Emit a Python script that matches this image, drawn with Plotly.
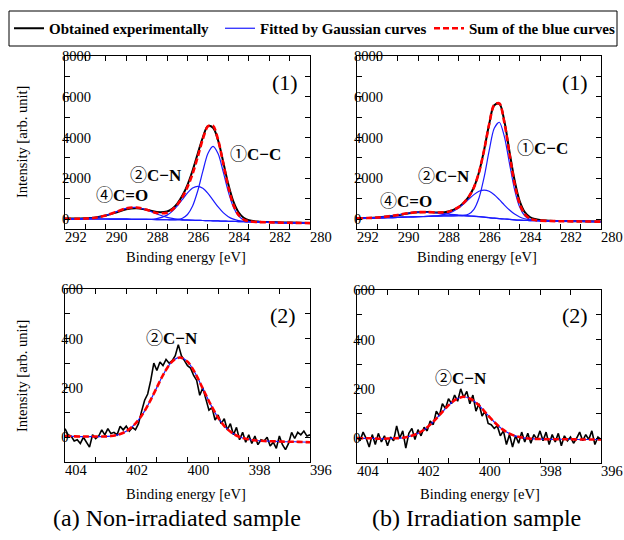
import plotly.graph_objects as go

W, H = 624, 540
FONT = "Liberation Serif, Times New Roman, serif"

# ---------------- C1s spectra (binding energy grid, eV) ----------------
c1s_energy = [292, 291.5, 291, 290.5, 290, 289.5, 289, 288.5, 288, 287.5, 287,
              286.75, 286.5, 286.25, 286, 285.75, 285.5, 285.25, 285, 284.75,
              284.5, 284.25, 284, 283.75, 283.5, 283.25, 283, 282.5, 282, 281, 280]
c1s_ticks = [292, 290, 288, 286, 284, 282, 280]

# (a) non-irradiated, C1s
a1_exp = [30, 25, 40, 80, 170, 320, 480, 530, 450, 340, 370, 500, 760, 1150, 1680,
          2380, 3200, 4000, 4560, 4480, 3850, 2800, 1700, 850, 330, 60, -60, -130,
          -150, -175, -190]
a1_base = [10, 8, 5, 2, 0, -5, -10, -15, -20, -28, -36, -41, -46, -50, -55, -61, -67,
           -74, -80, -88, -95, -103, -110, -118, -125, -133, -140, -152, -165, -185, -200]
a1_cc = [10, 8, 5, 2, 0, -5, -10, -15, -20, -28, -35, -36, -23, 39, 221, 638, 1373,
         2340, 3212, 3562, 3197, 2311, 1330, 581, 151, -44, -117, -151, -165, -185, -200]
a1_cn = [10, 8, 5, 2, 0, -5, -10, -14, -14, 20, 190, 376, 641, 963, 1282, 1519, 1603,
         1506, 1257, 925, 592, 314, 116, -8, -77, -114, -134, -151, -165, -185, -200]
a1_co = [10, 11, 22, 65, 174, 350, 520, 566, 448, 249, 84, 30, -8, -31, -46, -57, -65,
         -74, -80, -88, -95, -103, -110, -118, -125, -133, -140, -152, -165, -185, -200]
a1_sum = [10, 11, 22, 65, 174, 350, 520, 567, 454, 297, 311, 452, 702, 1071, 1567,
          2222, 3045, 3920, 4549, 4575, 3884, 2728, 1556, 691, 199, -25, -111, -151,
          -165, -185, -200]

# (b) irradiated, C1s
b1_exp = [40, 50, 70, 120, 190, 270, 330, 340, 320, 370, 590, 800, 1100, 1560, 2300,
          3380, 4650, 5580, 5650, 4780, 3300, 1900, 880, 340, 100, 0, -50, -85, -100,
          -115, -120]
b1_base = [30, 40, 50, 65, 80, 100, 115, 130, 145, 155, 160, 155, 145, 130, 110, 90, 65,
           40, 20, 0, -20, -40, -55, -65, -75, -82, -88, -98, -108, -120, -130]
b1_cc = [30, 40, 50, 65, 80, 100, 115, 130, 145, 155, 165, 180, 249, 477, 1030, 2039,
         3352, 4457, 4749, 4033, 2721, 1444, 585, 155, -15, -69, -86, -98, -108, -120, -130]
b1_cn = [30, 40, 50, 65, 80, 100, 115, 134, 172, 276, 542, 745, 976, 1197, 1359, 1422,
         1361, 1189, 949, 684, 439, 241, 102, 15, -38, -66, -82, -97, -108, -120, -130]
b1_co = [32, 47, 74, 126, 200, 284, 334, 333, 292, 238, 196, 177, 157, 137, 113, 90, 65,
         40, 20, 0, -20, -40, -55, -65, -75, -82, -88, -98, -108, -120, -130]
b1_sum = [32, 47, 74, 126, 200, 284, 334, 337, 319, 359, 584, 792, 1092, 1551, 2282,
          3371, 4648, 5606, 5678, 4717, 3180, 1725, 742, 235, 22, -53, -80, -97, -108,
          -120, -130]

# ---------------- N1s spectra ----------------
n1s_ticks = [404, 402, 400, 398, 396]
n1s_fit_energy = [404, 403.75, 403.5, 403.25, 403, 402.75, 402.5, 402.25, 402, 401.75,
                  401.5, 401.25, 401, 400.75, 400.5, 400.25, 400, 399.75, 399.5, 399.25,
                  399, 398.75, 398.5, 398.25, 398, 397.75, 397.5, 397.25, 397, 396.75,
                  396.5, 396.25, 396]
a2_fit = [5, 4, 3, 3, 3, 3, 5, 11, 24, 49, 87, 140, 202, 263, 307, 323, 306, 260, 197,
          134, 79, 39, 14, -1, -9, -13, -15, -16, -17, -18, -18, -19, -20]
b2_fit = [0, 0, 0, -2, -1, 0, 2, 9, 20, 39, 67, 100, 133, 158, 168, 158, 133, 99, 66, 38,
          19, 7, 1, -2, -3, -4, -4, -4, -4, -5, -5, -5, -5]
a2_sum = a2_fit   # only one component in N1s
b2_sum = b2_fit

n1s_energy = [round(404 - 0.1 * i, 1) for i in range(81)]
a2_exp = [35, 10, 5, -15, -10, -25, 0, -20, -40, 10,
          -5, 5, 30, 10, 35, 15, 20, 10, 45, 30,
          45, 25, 40, 30, 55, 105, 150, 175, 230, 300,
          270, 305, 290, 315, 300, 310, 330, 375, 330, 310,
          290, 280, 250, 230, 170, 200, 150, 110, 120, 70,
          90, 55, 75, 30, 55, 10, 40, -10, 20, -20,
          10, -25, 5, -30, -10, -15, 0, -35, -20, -45,
          5, -30, -50, -25, 20, -5, 20, 10, 25, 5,
          10]
b2_exp = [5, -10, 25, 0, -35, 15, -25, 20, -15, 10,
          -30, 5, -10, 50, 0, 30, -40, 20, 40, -5,
          35, 10, 45, 30, 70, 55, 110, 90, 140, 120,
          160, 140, 175, 150, 200, 165, 190, 140, 175, 110,
          140, 90, 110, 60, 55, 40, 50, 10, 30, -25,
          15, -35, 10, -20, 25, -15, 20, -20, 15, -5,
          30, -10, 25, -25, 15, -15, 20, -30, 10, -10,
          5, -20, 0, 25, -10, 15, -5, 30, -25, 5,
          -5]

BLACK, BLUE, RED = "#000000", "#1a1aff", "#ff0000"
NAME_EXP = "<b>Obtained experimentally</b>"
NAME_FIT = "<b>Fitted by Gaussian curves</b>"
NAME_SUM = "<b>Sum of the blue curves</b>"

fig = go.Figure()


def add_panel(xa, ya, ex, ey, fx, fits, sx, sy, exp_width, exp_shape, legend):
    fig.add_trace(go.Scatter(x=ex, y=ey, mode="lines", xaxis=xa, yaxis=ya,
                             line=dict(color=BLACK, width=exp_width, shape=exp_shape),
                             name=NAME_EXP, legendgroup="exp", showlegend=legend,
                             legend="legend"))
    for i, f in enumerate(fits):
        fig.add_trace(go.Scatter(x=fx, y=f, mode="lines", xaxis=xa, yaxis=ya,
                                 line=dict(color=BLUE, width=1.2, shape="spline", smoothing=0.8),
                                 name=NAME_FIT, legendgroup="fit",
                                 showlegend=legend and i == 0, legend="legend2"))
    fig.add_trace(go.Scatter(x=sx, y=sy, mode="lines", xaxis=xa, yaxis=ya,
                             line=dict(color=RED, width=2.6, dash="6px,3px",
                                       shape="spline", smoothing=0.8),
                             name=NAME_SUM, legendgroup="sum", showlegend=legend,
                             legend="legend3"))


add_panel("x", "y", c1s_energy, a1_exp, c1s_energy, [a1_base, a1_co, a1_cn, a1_cc],
          c1s_energy, a1_sum, 2.0, "spline", True)
add_panel("x2", "y2", c1s_energy, b1_exp, c1s_energy, [b1_base, b1_co, b1_cn, b1_cc],
          c1s_energy, b1_sum, 2.0, "spline", False)
add_panel("x3", "y3", n1s_energy, a2_exp, n1s_fit_energy, [a2_fit],
          n1s_fit_energy, a2_sum, 1.6, "linear", False)
add_panel("x4", "y4", n1s_energy, b2_exp, n1s_fit_energy, [b2_fit],
          n1s_fit_energy, b2_sum, 1.6, "linear", False)


def dom_x(l, r):
    return [l / W, r / W]


def dom_y(t, b):
    return [1 - b / H, 1 - t / H]


FS = "\u2007"  # figure space (digit width) used to offset labels as in the original
tickfont = dict(family=FONT, size=14.5, color="black")
common = dict(showline=True, linecolor="black", linewidth=1, mirror="ticks",
              ticks="inside", ticklen=5, tickcolor="black", tickwidth=1,
              showgrid=False, zeroline=False, tickfont=tickfont, fixedrange=True,
              automargin=False)


def xax(dom, rng, anchor, labels):
    # the original prints each energy label a little to the right of its tick
    alias = {str(v): FS * 3 + str(v) for v in labels}
    return dict(common, domain=dom, range=rng, anchor=anchor, dtick=2, tick0=0,
                tickangle=0,
                minor=dict(dtick=1, ticks="inside", ticklen=5, tickcolor="black",
                           showgrid=False),
                ticklabelstandoff=-5, labelalias=alias)


def yax(dom, rng, anchor, major, minor, standoff, zero_pad):
    return dict(common, domain=dom, range=rng, anchor=anchor, dtick=major, tick0=0,
                minor=dict(dtick=minor, ticks="inside", ticklen=5, tickcolor="black",
                           showgrid=False),
                ticklabelstandoff=standoff, labelalias={"0": "0" + FS * zero_pad})


def leg(x_px):
    return dict(orientation="h", x=x_px / W, y=1 - 28.5 / H, xanchor="left",
                yanchor="middle", borderwidth=0, bgcolor="rgba(255,255,255,0)",
                font=dict(family=FONT, size=15, color="black"), itemwidth=30)


fig.update_layout(
    width=W, height=H, autosize=False,
    margin=dict(l=0, r=0, t=0, b=0, autoexpand=False),
    paper_bgcolor="white", plot_bgcolor="white",
    font=dict(family=FONT, color="black"),
    xaxis=xax(dom_x(65, 310), [292, 280], "y", c1s_ticks),
    yaxis=yax(dom_y(56, 229), [-490, 8000], "x", 2000, 1000, -30, 3),
    xaxis2=xax(dom_x(357, 601), [292, 280], "y2", c1s_ticks),
    yaxis2=yax(dom_y(56, 229), [-490, 8000], "x2", 2000, 1000, -30, 3),
    xaxis3=xax(dom_x(65, 310), [404, 396], "y3", n1s_ticks),
    yaxis3=yax(dom_y(289, 462), [-100, 600], "x3", 200, 100, -22, 2),
    xaxis4=xax(dom_x(357, 601), [404, 396], "y4", n1s_ticks),
    yaxis4=yax(dom_y(290, 463), [-100, 600], "x4", 200, 100, -22, 2),
    legend=leg(9),
    legend2=leg(220),
    legend3=leg(429),
)

# frame around the three legend entries
fig.add_shape(type="rect", xref="paper", yref="paper",
              x0=9 / W, x1=617 / W, y0=1 - 46 / H, y1=1 - 11 / H,
              line=dict(color="black", width=1), fillcolor="rgba(0,0,0,0)")


def note(text, x, y, size, **kw):
    fig.add_annotation(text=text, x=x / W, y=1 - y / H, xref="paper", yref="paper",
                       showarrow=False, xanchor="center", yanchor="middle",
                       font=dict(family=FONT + ", Noto Sans CJK JP", size=size, color="black"),
                       **kw)


# axis titles
for cx, cy in [(186, 257), (477, 257), (186, 494), (480, 494)]:
    note("Binding energy [eV]", cx, cy, 14.5)
for cy in [142, 376]:
    note("Intensity [arb. unit]", 22, cy, 14.5, textangle=-90)

# panel tags
note("(1)", 285, 83, 22)
note("(1)", 575, 82, 22)
note("(2)", 283, 315, 22)
note("(2)", 575, 315, 22)

# peak labels
note("①<b>C−C</b>", 255, 155, 17)
note("②<b>C−N</b>", 156, 175, 17)
note("④<b>C=O</b>", 122, 195, 17)
note("①<b>C−C</b>", 542, 148, 17)
note("②<b>C−N</b>", 444, 177, 17)
note("④<b>C=O</b>", 406, 202, 17)
note("②<b>C−N</b>", 172, 338, 17)
note("②<b>C−N</b>", 461, 378, 17)

# captions
note("(a) Non-irradiated sample", 177, 518, 24)
note("(b) Irradiation sample", 476, 518, 24)

fig.write_html("out.html", config={"displayModeBar": False},
               post_script="document.body.style.margin='0';"
                           "document.body.style.overflow='hidden';")
